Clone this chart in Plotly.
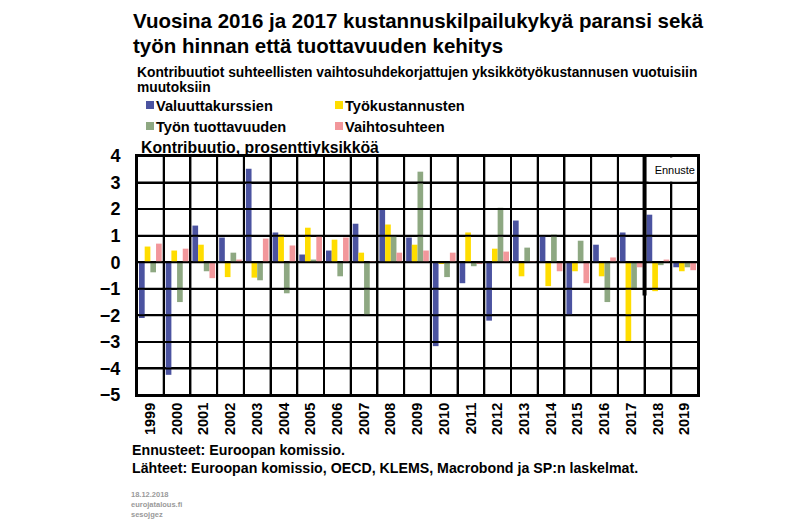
import plotly.graph_objects as go

years = [str(y) for y in range(1999, 2020)]
valuuttakurssien = [-2.1, -4.24, 1.38, 0.93, 3.52, 1.12, 0.29, 0.44, 1.45, 1.98, 0.93,
                    -3.16, -0.79, -2.2, 1.57, 1.0, -2.02, 0.66, 1.12, 1.79, -0.19]
tyokustannusten = [0.59, 0.44, 0.66, -0.56, -0.58, 1.04, 1.3, 0.85, 0.36, 1.42, 0.66,
                   -0.03, 1.12, 0.51, -0.53, -0.9, -0.34, -0.53, -2.97, -1.09, -0.34]
tyon_tuottavuuden = [-0.38, -1.5, -0.34, 0.36, -0.68, -1.17, 0.1, -0.53, -1.98, 1.0, 3.41,
                     -0.56, -0.15, 2.05, 0.55, 1.04, 0.81, -1.5, -1.0, -0.11, -0.19]
vaihtosuhteen = [0.7, 0.51, -0.6, 0.1, 0.89, 0.63, 0.99, 0.93, 0.03, 0.36, 0.44,
                 0.36, -0.05, 0.4, 0.03, -0.34, -0.79, 0.18, -0.19, 0.1, -0.3]

series_names = ["Valuuttakurssien", "Työkustannusten", "Työn tuottavuuden", "Vaihtosuhteen"]
series_values = [valuuttakurssien, tyokustannusten, tyon_tuottavuuden, vaihtosuhteen]
colors = ["#4b53a0", "#ffdd00", "#8ea882", "#f2979b"]

y_ticks = [-5, -4, -3, -2, -1, 0, 1, 2, 3, 4]
forecast_boundary = 18.5  # between 2017 and 2018
forecast_line_bottom = -1.25

FONT = "Arial, Liberation Sans, sans-serif"

# plot area in pixels
L, R, T, B = 137, 698, 156, 395
W, H = 800, 523
n = len(years)
y_range = [min(y_ticks), max(y_ticks)]
x_range = [-0.5, n - 0.5]

# half of a 2-px grid line, in axis units
half_y = (y_range[1] - y_range[0]) / (B - T)
half_x = (x_range[1] - x_range[0]) / (R - L)


def px_x(px):
    return (px - L) / (R - L)


def px_y(py):
    return (B - py) / (B - T)


fig = go.Figure()
for name, vals, col in zip(series_names, series_values, colors):
    fig.add_trace(go.Bar(x=years, y=vals, name=name, marker=dict(color=col, line=dict(width=0)),
                         showlegend=False))

annotations = []
shapes = []

# grid drawn as thin filled bands (integer values and category boundaries)
for v in y_ticks:
    shapes.append(dict(type="rect", xref="paper", yref="y", x0=0, x1=1,
                       y0=v - half_y, y1=v + half_y, fillcolor="black",
                       line=dict(width=0), layer="above"))
for i in range(n + 1):
    b = i - 0.5
    shapes.append(dict(type="rect", xref="x", yref="paper", x0=b - half_x, x1=b + half_x,
                       y0=0, y1=1, fillcolor="black", line=dict(width=0), layer="above"))


def txt(text, x, y, size, bold=True, color="black", family=FONT, xanchor="left"):
    annotations.append(dict(text=text, x=px_x(x), y=px_y(y), xref="paper", yref="paper",
                            xanchor=xanchor, yanchor="middle", showarrow=False,
                            font=dict(family=family, size=size, color=color,
                                      weight="bold" if bold else "normal")))


txt("Vuosina 2016 ja 2017 kustannuskilpailukykyä paransi sekä", 131, 20, 20.5)
txt("työn hinnan että tuottavuuden kehitys", 131, 45, 20.5)
txt("Kontribuutiot suhteellisten vaihtosuhdekorjattujen yksikkötyökustannusen vuotuisiin", 135, 72, 13.8)
txt("muutoksiin", 135, 88, 13.8)
txt("Kontribuutio, prosenttiyksikköä", 139, 148, 15.8)

# legend (manual two-column layout)
leg_pos = [(146, 105), (335, 105), (146, 126), (335, 126)]
for (lx, ly), name, col in zip(leg_pos, series_names, colors):
    shapes.append(dict(type="rect", xref="paper", yref="paper", x0=px_x(lx), x1=px_x(lx + 8),
                       y0=px_y(ly + 4), y1=px_y(ly - 4), fillcolor=col, line=dict(width=0)))
    txt(name, lx + 8, ly + 1, 14.6)

txt("Ennusteet: Euroopan komissio.", 130, 450, 14.2)
txt("Lähteet: Euroopan komissio, OECD, KLEMS, Macrobond ja SP:n laskelmat.", 130, 468, 14.2)
txt("18.12.2018", 129, 494, 7.5, color="#9a9a9a")
txt("eurojatalous.fi", 129, 504, 7.5, color="#9a9a9a")
txt("sesojgez", 129, 514, 7.5, color="#9a9a9a")

# forecast label box
annotations.append(dict(text="Ennuste", x=px_x(672), y=px_y(169.5), xref="paper", yref="paper",
                        xanchor="center", yanchor="middle", showarrow=False, width=46, height=23,
                        align="right", bgcolor="white", borderpad=0,
                        font=dict(family=FONT, size=11, color="black")))

# forecast separator line
shapes.append(dict(type="line", xref="x", yref="y", x0=forecast_boundary, x1=forecast_boundary,
                   y0=max(y_ticks), y1=forecast_line_bottom, line=dict(color="black", width=4),
                   layer="above"))

fig.update_layout(
    width=W, height=H,
    margin=dict(l=L, r=W - R, t=T, b=H - B, pad=0),
    paper_bgcolor="white", plot_bgcolor="white",
    barmode="group", bargap=0.15, bargroupgap=0,
    annotations=annotations, shapes=shapes,
    showlegend=False,
    font=dict(family=FONT, color="black"),
)
fig.update_xaxes(type="category", tickson="boundaries", showgrid=True, gridcolor="#000000",
                 gridwidth=2, ticks="outside", ticklen=7, tickcolor="rgba(0,0,0,0)",
                 tickangle=-90, range=x_range,
                 tickfont=dict(family=FONT, size=14.5, color="black", weight="bold"),
                 showline=True, mirror=True, linecolor="black", linewidth=2)
fig.update_yaxes(range=y_range, tickvals=y_ticks, showgrid=True,
                 gridcolor="#000000", gridwidth=2, zeroline=True, zerolinecolor="black",
                 zerolinewidth=2, ticks="outside", ticklen=11, tickcolor="rgba(0,0,0,0)",
                 tickfont=dict(family=FONT, size=18, color="black", weight="bold"),
                 showline=True, mirror=True, linecolor="black", linewidth=2)

fig.write_html("out.html")
